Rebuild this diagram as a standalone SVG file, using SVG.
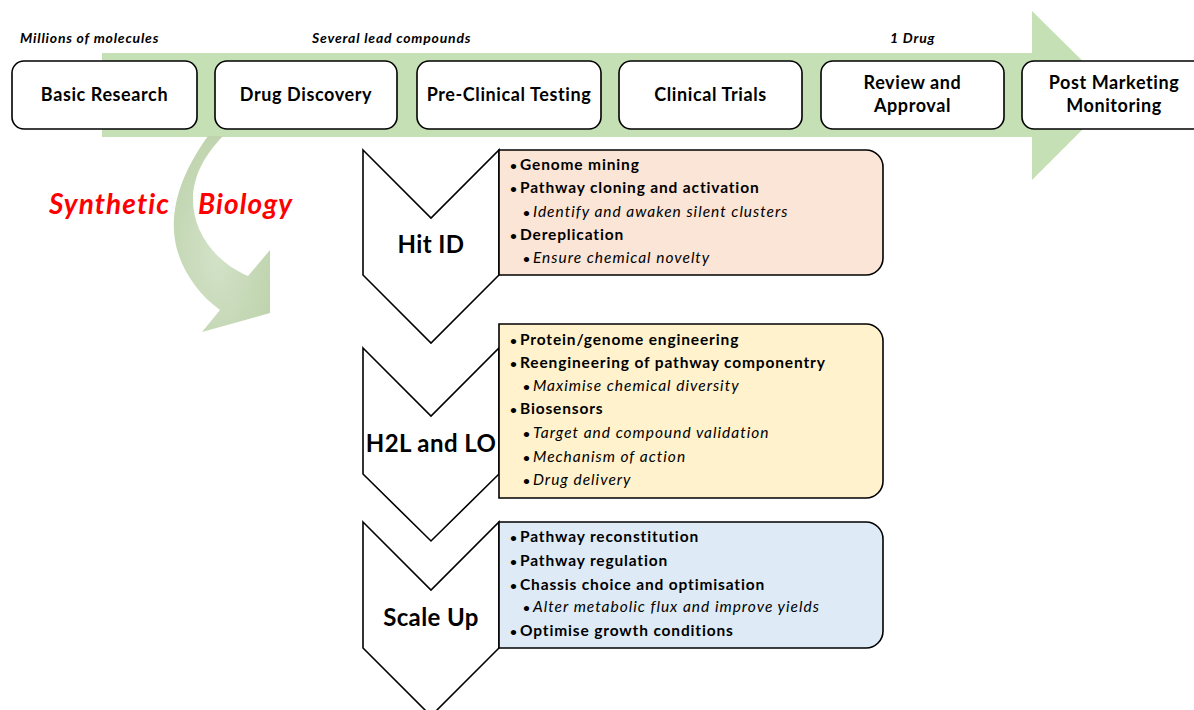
<svg xmlns="http://www.w3.org/2000/svg" width="1194" height="710" viewBox="0 0 1194 710">
<defs>
<style>
.stage{fill:#ffffff;stroke:#000;stroke-width:1.6}
.stxt{font-family:Lato,"Liberation Sans",sans-serif;font-weight:700;font-size:18px;letter-spacing:0.6px;fill:#000;text-anchor:middle}
.note{font-family:Lato,"Liberation Sans",sans-serif;font-weight:700;font-style:italic;font-size:14px;letter-spacing:0.8px;fill:#000}
.chev{fill:#ffffff;stroke:#000;stroke-width:1.6;stroke-linejoin:miter}
.clab{font-family:Lato,"Liberation Sans",sans-serif;font-weight:700;font-size:24px;letter-spacing:0.4px;fill:#000;text-anchor:middle}
.card{stroke:#000;stroke-width:1.6}
.b{font-family:Lato,"Liberation Sans",sans-serif;font-weight:700;font-size:15.5px;letter-spacing:0.85px;fill:#000}
.i{font-family:Lato,"Liberation Sans",sans-serif;font-style:italic;font-size:15.5px;letter-spacing:1px;fill:#000}
.bu{font-size:12px;font-weight:700;font-style:normal;letter-spacing:0}
.red{font-family:Lato,"Liberation Sans",sans-serif;font-weight:700;font-style:italic;font-size:28px;letter-spacing:1.1px;fill:#ff0000}
</style>
<radialGradient id="cg" cx="0.45" cy="0.6" r="0.6">
<stop offset="0" stop-color="#d3e2c8"/>
<stop offset="1" stop-color="#bfd4ae"/>
</radialGradient>
</defs>
<rect width="1194" height="710" fill="#ffffff"/>

<g id="connectors">
<polygon id="pipeline-arrow" points="102,53 1032,53 1032,11 1117,95 1032,180 1032,137 102,137" fill="#c5e0b4"/>
<path id="synbio-arrow" d="M208,136 C185,168 172,200 174,232 C176,262 195,292 220,310 L202,332 L270,313 L270,250 L248,276 C215,262 193,232 193,200 C193,175 205,155 223,136 Z" fill="url(#cg)"/>
</g>

<g id="notes">
<text class="note" x="20" y="43">Millions of molecules</text>
<text class="note" x="312" y="43">Several lead compounds</text>
<text class="note" x="890" y="43">1 Drug</text>
</g>

<g id="basic-research"><rect class="stage" x="12" y="61" width="185" height="68" rx="12"/><text class="stxt" x="104.5" y="101">Basic Research</text></g>
<g id="drug-discovery"><rect class="stage" x="215" y="61" width="182" height="68" rx="12"/><text class="stxt" x="306" y="101">Drug Discovery</text></g>
<g id="pre-clinical"><rect class="stage" x="417" y="61" width="184" height="68" rx="12"/><text class="stxt" x="509" y="101">Pre-Clinical Testing</text></g>
<g id="clinical-trials"><rect class="stage" x="619" y="61" width="183" height="68" rx="12"/><text class="stxt" x="710.5" y="101">Clinical Trials</text></g>
<g id="review-approval"><rect class="stage" x="821" y="61" width="183" height="68" rx="12"/><text class="stxt" x="912.5" y="89">Review and</text><text class="stxt" x="912.5" y="112">Approval</text></g>
<g id="post-marketing"><rect class="stage" x="1022" y="61" width="190" height="68" rx="12"/><text class="stxt" x="1114" y="89">Post Marketing</text><text class="stxt" x="1114" y="112">Monitoring</text></g>

<g id="synthetic-biology-label">
<text class="red" x="49" y="214">Synthetic</text>
<text class="red" x="198" y="214">Biology</text>
</g>

<g id="hit-id">
<polygon class="chev" points="363,150 431,218 499,150 499,275 431,343 363,275"/>
<text class="clab" x="431" y="253">Hit ID</text>
<path class="card" fill="#fbe5d6" d="M499,150 H866 A17,17 0 0 1 883,167 V258 A17,17 0 0 1 866,275 H499 Z"/>
<text class="b" y="170"><tspan class="bu" x="510">•</tspan><tspan x="520">Genome mining</tspan></text>
<text class="b" y="193"><tspan class="bu" x="510">•</tspan><tspan x="520">Pathway cloning and activation</tspan></text>
<text class="i" y="217"><tspan class="bu" x="523">•</tspan><tspan x="533">Identify and awaken silent clusters</tspan></text>
<text class="b" y="240"><tspan class="bu" x="510">•</tspan><tspan x="520">Dereplication</tspan></text>
<text class="i" y="263"><tspan class="bu" x="523">•</tspan><tspan x="533">Ensure chemical novelty</tspan></text>
</g>

<g id="h2l-lo">
<polygon class="chev" points="363,348 431,416 499,348 499,474 431,541 363,474"/>
<text class="clab" x="431" y="452">H2L and LO</text>
<path class="card" fill="#fff2cc" d="M499,324 H866 A17,17 0 0 1 883,341 V481 A17,17 0 0 1 866,498 H499 Z"/>
<text class="b" y="345"><tspan class="bu" x="510">•</tspan><tspan x="520">Protein/genome engineering</tspan></text>
<text class="b" y="368"><tspan class="bu" x="510">•</tspan><tspan x="520">Reengineering of pathway componentry</tspan></text>
<text class="i" y="391"><tspan class="bu" x="523">•</tspan><tspan x="533">Maximise chemical diversity</tspan></text>
<text class="b" y="414"><tspan class="bu" x="510">•</tspan><tspan x="520">Biosensors</tspan></text>
<text class="i" y="438"><tspan class="bu" x="523">•</tspan><tspan x="533">Target and compound validation</tspan></text>
<text class="i" y="462"><tspan class="bu" x="523">•</tspan><tspan x="533">Mechanism of action</tspan></text>
<text class="i" y="485"><tspan class="bu" x="523">•</tspan><tspan x="533">Drug delivery</tspan></text>
</g>

<g id="scale-up">
<polygon class="chev" points="363,522 431,590 499,522 499,648 431,716 363,648"/>
<text class="clab" x="431" y="626">Scale Up</text>
<path class="card" fill="#deebf7" d="M499,522 H866 A17,17 0 0 1 883,539 V631 A17,17 0 0 1 866,648 H499 Z"/>
<text class="b" y="542"><tspan class="bu" x="510">•</tspan><tspan x="520">Pathway reconstitution</tspan></text>
<text class="b" y="566"><tspan class="bu" x="510">•</tspan><tspan x="520">Pathway regulation</tspan></text>
<text class="b" y="590"><tspan class="bu" x="510">•</tspan><tspan x="520">Chassis choice and optimisation</tspan></text>
<text class="i" y="612"><tspan class="bu" x="523">•</tspan><tspan x="533">Alter metabolic flux and improve yields</tspan></text>
<text class="b" y="636"><tspan class="bu" x="510">•</tspan><tspan x="520">Optimise growth conditions</tspan></text>
</g>
</svg>
